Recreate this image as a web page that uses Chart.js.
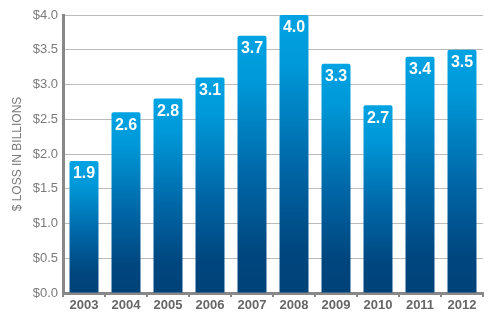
<!DOCTYPE html>
<html>
<head>
<meta charset="utf-8">
<script src="https://cdn.jsdelivr.net/npm/chart.js@4/dist/chart.umd.min.js"></script>
<style>
  html, body { margin: 0; padding: 0; background: #fff; }
  #wrap { width: 496px; height: 326px; }
</style>
</head>
<body>
<div id="wrap"><canvas id="lossChart" width="496" height="326"></canvas></div>
<script>
var years = ['2003','2004','2005','2006','2007','2008','2009','2010','2011','2012'];
var lossBillions = [1.9, 2.6, 2.8, 3.1, 3.7, 4.0, 3.3, 2.7, 3.4, 3.5];
var yTicks = [0, 0.5, 1.0, 1.5, 2.0, 2.5, 3.0, 3.5, 4.0];

// vertical gradient from the top of each bar down to the baseline
function barGradient(ctx) {
	var chart = ctx.chart;
	if (!chart.chartArea || !chart.scales.y) return '#0077b6';
	var y = chart.scales.y;
	var top = y.getPixelForValue(lossBillions[ctx.dataIndex]);
	var base = y.getPixelForValue(0);
	var g = chart.ctx.createLinearGradient(0, top, 0, base);
	g.addColorStop(0, '#00a3e3');
	g.addColorStop(0.18, '#0098d8');
	g.addColorStop(0.55, '#0066a6');
	g.addColorStop(0.85, '#00467e');
	g.addColorStop(1, '#00427a');
	return g;
}

// white value labels just inside the top of each bar
var valueLabels = {
	id: 'valueLabels',
	afterDatasetsDraw: function(chart) {
		var ctx = chart.ctx;
		var meta = chart.getDatasetMeta(0);
		ctx.save();
		ctx.fillStyle = '#ffffff';
		ctx.font = 'bold 16px "Liberation Sans", Arial, sans-serif';
		ctx.textAlign = 'center';
		ctx.textBaseline = 'middle';
		meta.data.forEach(function(bar, i) {
			ctx.fillText(lossBillions[i].toFixed(1), bar.x, bar.y + 13);
		});
		ctx.restore();
	}
};

var chart = new Chart(document.getElementById('lossChart').getContext('2d'), {
	type: 'bar',
	data: {
		labels: years,
		datasets: [{
			data: lossBillions,
			backgroundColor: barGradient,
			borderRadius: { topLeft: 2, topRight: 2 },
			borderSkipped: 'start',
			barPercentage: 0.69,
			categoryPercentage: 1.0
		}]
	},
	options: {
		responsive: false,
		animation: false,
		events: [],
		layout: { padding: { top: 15, right: 13, left: 0, bottom: 0 } },
		plugins: {
			legend: { display: false },
			tooltip: { enabled: false }
		},
		scales: {
			x: {
				afterFit: function(scale) { scale.height = 33; },
				border: { color: '#888888', width: 3 },
				grid: {
					display: true,
					offset: true,
					drawOnChartArea: false,
					drawTicks: true,
					tickLength: 4,
					color: '#888888',
					lineWidth: 2
				},
				ticks: {
					color: '#666666',
					padding: 1,
					font: { family: '"Liberation Sans", Arial, sans-serif', size: 13, weight: 'bold' }
				}
			},
			y: {
				min: 0,
				max: 4,
				afterFit: function(scale) { scale.width = 63; },
				afterBuildTicks: function(scale) {
					scale.ticks = yTicks.map(function(v) { return { value: v }; });
				},
				border: { color: '#888888', width: 3 },
				grid: { color: '#bbbbbb', lineWidth: 1, drawTicks: false },
				ticks: {
					color: '#7a7a7a',
					padding: 5,
					font: { family: '"Liberation Sans", Arial, sans-serif', size: 13 },
					callback: function(v) { return '$' + Number(v).toFixed(1); }
				},
				title: {
					display: true,
					text: '$ LOSS IN BILLIONS',
					color: '#7a7a7a',
					padding: { top: 10, bottom: 0 },
					font: { family: '"Liberation Sans", Arial, sans-serif', size: 12 }
				}
			}
		}
	},
	plugins: [valueLabels]
});
</script>
</body>
</html>
